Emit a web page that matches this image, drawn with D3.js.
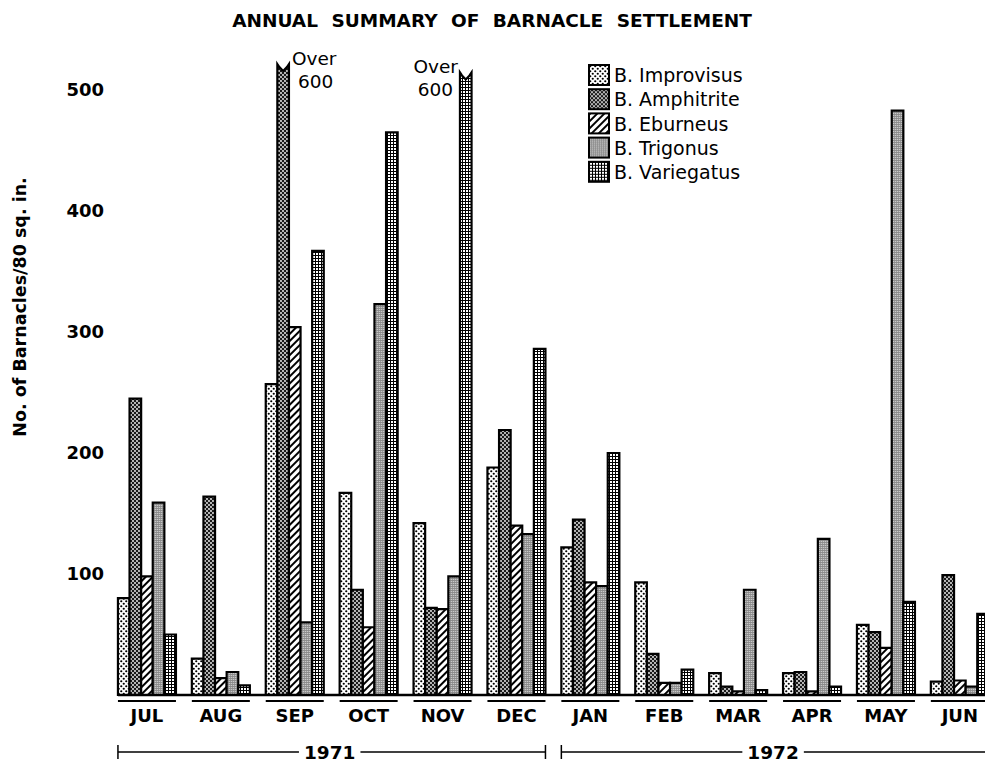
<!DOCTYPE html>
<html>
<head>
<meta charset="utf-8">
<script src="https://cdn.jsdelivr.net/npm/d3@7"></script>
<style>
  body { margin: 0; background: #fff; }
  svg { display: block; font-family: "DejaVu Sans", Verdana, sans-serif; }
</style>
</head>
<body>
<div id="chart"></div>
<script>
// data
const months = ["JUL", "AUG", "SEP", "OCT", "NOV", "DEC", "JAN", "FEB", "MAR", "APR", "MAY", "JUN"];
const species = ["B. Improvisus", "B. Amphitrite", "B. Eburneus", "B. Trigonus", "B. Variegatus"];
const improvisus = [80, 30, 257, 167, 142, 188, 122, 93, 18, 18, 58, 11];
const amphitrite = [245, 164, 600, 87, 72, 219, 145, 34, 7, 19, 52, 99];
const eburneus   = [98, 14, 304, 56, 71, 140, 93, 10, 3, 3, 39, 12];
const trigonus   = [159, 19, 60, 323, 98, 133, 90, 10, 87, 129, 483, 7];
const variegatus = [50, 8, 367, 465, 600, 286, 200, 21, 4, 7, 77, 67];
const yTicks = [100, 200, 300, 400, 500];
// bars that run off the scale ("Over 600"), drawn broken at this height
const brokenBars = [
  { month: "SEP", species: "B. Amphitrite", drawnTo: 519, side: "right" },
  { month: "NOV", species: "B. Variegatus", drawnTo: 512, side: "left" }
];
const years = [
  { label: "1971", from: "JUL", to: "DEC" },
  { label: "1972", from: "JAN", to: "JUN" }
];

const seriesValues = [improvisus, amphitrite, eburneus, trigonus, variegatus];
const patternIds = ["pImp", "pAmp", "pEbu", "pTri", "pVar"];

const width = 985, height = 765;

const svg = d3.select("#chart")
  .append("svg")
  .attr("width", width)
  .attr("height", height);

// fill patterns
const defs = svg.append("defs");

let p = defs.append("pattern").attr("id", "pImp").attr("patternUnits", "userSpaceOnUse")
  .attr("width", 5).attr("height", 5);
p.append("rect").attr("width", 5).attr("height", 5).attr("fill", "#fff");
p.append("circle").attr("cx", 1.25).attr("cy", 1.25).attr("r", 1.1).attr("fill", "#000");
p.append("circle").attr("cx", 3.75).attr("cy", 3.75).attr("r", 1.1).attr("fill", "#000");

p = defs.append("pattern").attr("id", "pAmp").attr("patternUnits", "userSpaceOnUse")
  .attr("width", 4).attr("height", 4);
p.append("rect").attr("width", 4).attr("height", 4).attr("fill", "#1a1a1a");
p.append("circle").attr("cx", 1).attr("cy", 1).attr("r", 0.9).attr("fill", "#fff");
p.append("circle").attr("cx", 3).attr("cy", 3).attr("r", 0.9).attr("fill", "#fff");

p = defs.append("pattern").attr("id", "pEbu").attr("patternUnits", "userSpaceOnUse")
  .attr("width", 5).attr("height", 5).attr("patternTransform", "rotate(45)");
p.append("rect").attr("width", 5).attr("height", 5).attr("fill", "#fff");
p.append("rect").attr("x", 0).attr("width", 2).attr("height", 5).attr("fill", "#000");

p = defs.append("pattern").attr("id", "pTri").attr("patternUnits", "userSpaceOnUse")
  .attr("width", 2).attr("height", 2);
p.append("rect").attr("width", 2).attr("height", 2).attr("fill", "#c8c8c8");
p.append("rect").attr("width", 2).attr("height", 0.7).attr("fill", "#777");
p.append("rect").attr("width", 0.7).attr("height", 2).attr("fill", "#888");

p = defs.append("pattern").attr("id", "pVar").attr("patternUnits", "userSpaceOnUse")
  .attr("width", 3).attr("height", 3);
p.append("rect").attr("width", 3).attr("height", 3).attr("fill", "#000");
p.append("rect").attr("x", 1).attr("y", 1).attr("width", 2).attr("height", 2).attr("fill", "#fff");

// scales
const x = d3.scaleBand()
  .domain(months)
  .range([110, 110 + 12 * 73.9])
  .paddingInner(0.215)
  .paddingOuter(0.1075);

const xs = d3.scaleBand()
  .domain(species)
  .range([0, x.bandwidth()]);

const y = d3.scaleLinear()
  .domain([0, 500])
  .range([695, 90]);

// title
svg.append("text")
  .attr("x", 492)
  .attr("y", 27)
  .attr("text-anchor", "middle")
  .attr("font-weight", "bold")
  .attr("font-size", 18.5)
  .attr("word-spacing", 7)
  .text("ANNUAL SUMMARY OF BARNACLE SETTLEMENT");

// y axis labels (no axis line)
const yAxis = svg.append("g")
  .attr("transform", "translate(104,0)")
  .call(d3.axisLeft(y).tickValues(yTicks).tickSize(0).tickPadding(0));
yAxis.select(".domain").remove();
yAxis.selectAll("text")
  .attr("font-family", "DejaVu Sans, Verdana, sans-serif")
  .attr("font-size", 18)
  .attr("font-weight", "bold")
  .attr("fill", "#000");

svg.append("text")
  .attr("transform", "translate(26,307) rotate(-90)")
  .attr("text-anchor", "middle")
  .attr("font-weight", "bold")
  .attr("font-size", 17.5)
  .text("No. of Barnacles/80 sq. in.");

// bars
const rows = [];
months.forEach((m, i) => {
  species.forEach((s, j) => {
    const br = brokenBars.find(b => b.month === m && b.species === s);
    rows.push({ month: m, species: s, k: j, value: seriesValues[j][i], broken: br });
  });
});

function barPath(d) {
  const x0 = x(d.month) + xs(d.species);
  const x1 = x0 + xs.bandwidth();
  const top = d.broken ? y(d.broken.drawnTo) : y(d.value);
  const bottom = y(0);
  if (!d.broken) {
    return `M${x0},${bottom}V${top}H${x1}V${bottom}Z`;
  }
  const mid = (x0 + x1) / 2;
  return `M${x0},${bottom}V${top - 3}L${x0 + 2},${top}L${mid},${top + 4}L${x1 - 2},${top}L${x1},${top - 3}V${bottom}Z`;
}

svg.append("g")
  .selectAll("path")
  .data(rows)
  .join("path")
  .attr("d", barPath)
  .attr("fill", d => `url(#${patternIds[d.k]})`)
  .attr("stroke", "#000")
  .attr("stroke-width", 2.2)
  .attr("stroke-linejoin", "miter");

// "Over 600" notes
brokenBars.forEach(b => {
  const bx = x(b.month) + xs(b.species);
  const top = y(b.drawnTo);
  const right = b.side === "right";
  const tx = right ? bx + xs.bandwidth() + 3 : bx - 2;
  const t = svg.append("text")
    .attr("font-size", 18.5)
    .attr("text-anchor", right ? "start" : "end");
  t.append("tspan").attr("x", tx).attr("y", top - 2).text("Over");
  t.append("tspan").attr("x", tx + (right ? 6 : -5)).attr("y", top + 21).text("600");
});

// baseline
svg.append("line")
  .attr("x1", x(months[0]))
  .attr("x2", width)
  .attr("y1", y(0))
  .attr("y2", y(0))
  .attr("stroke", "#000")
  .attr("stroke-width", 2.5);

// month labels with underline
const mg = svg.append("g")
  .selectAll("g")
  .data(months)
  .join("g");
mg.append("line")
  .attr("x1", d => x(d))
  .attr("x2", d => x(d) + x.bandwidth())
  .attr("y1", 701)
  .attr("y2", 701)
  .attr("stroke", "#000")
  .attr("stroke-width", 2);
mg.append("text")
  .attr("x", d => x(d) + x.bandwidth() / 2)
  .attr("y", 722)
  .attr("text-anchor", "middle")
  .attr("font-weight", "bold")
  .attr("font-size", 18)
  .text(d => d);

// year brackets
years.forEach(yr => {
  const x0 = x(yr.from);
  const x1 = x(yr.to) + x.bandwidth();
  const cx = (x0 + x1) / 2 - 2;
  const ly = 752;
  const g = svg.append("g");
  const t = g.append("text")
    .attr("x", cx)
    .attr("y", ly + 7)
    .attr("text-anchor", "middle")
    .attr("font-weight", "bold")
    .attr("font-size", 18.5)
    .text(yr.label);
  const half = t.node().getComputedTextLength() / 2 + 5;
  g.append("line").attr("x1", x0).attr("x2", cx - half).attr("y1", ly).attr("y2", ly)
    .attr("stroke", "#000").attr("stroke-width", 1.5);
  g.append("line").attr("x1", cx + half).attr("x2", x1).attr("y1", ly).attr("y2", ly)
    .attr("stroke", "#000").attr("stroke-width", 1.5);
  g.selectAll(".tick").data([x0, x1]).join("line")
    .attr("x1", d => d).attr("x2", d => d)
    .attr("y1", ly - 7).attr("y2", ly + 7)
    .attr("stroke", "#000").attr("stroke-width", 1.5);
});

// legend
const legend = svg.append("g").attr("transform", "translate(589,65)");
const li = legend.selectAll("g")
  .data(species)
  .join("g")
  .attr("transform", (d, i) => `translate(0,${i * 24.2})`);
li.append("rect")
  .attr("width", 20)
  .attr("height", 20)
  .attr("fill", (d, i) => `url(#${patternIds[i]})`)
  .attr("stroke", "#000")
  .attr("stroke-width", 2);
li.append("text")
  .attr("x", 25)
  .attr("y", 10.5)
  .attr("dy", "0.35em")
  .attr("font-size", 19)
  .text(d => d);
</script>
</body>
</html>
